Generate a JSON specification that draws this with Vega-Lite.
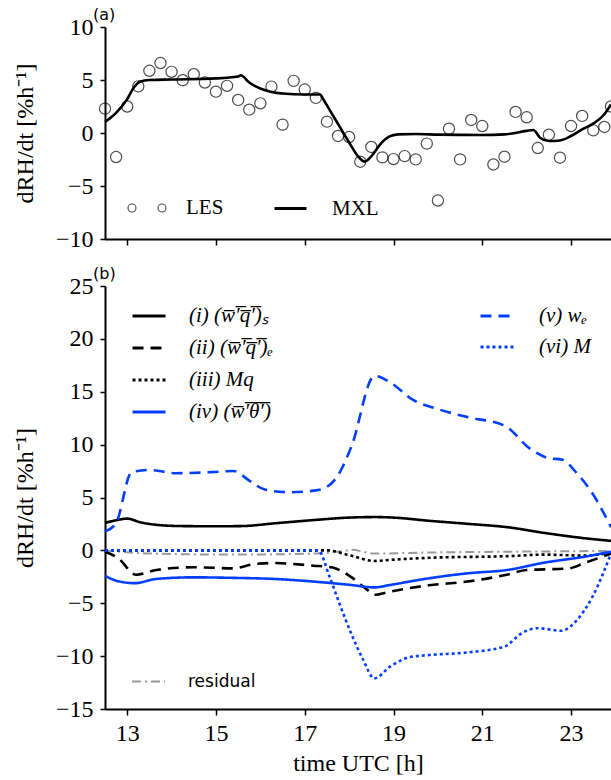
{
  "$schema": "https://vega.github.io/schema/vega-lite/v6.json",
  "background": "white",
  "padding": {"left": 13, "top": 7, "right": 0, "bottom": 0},
  "spacing": 15,
  "config": {
    "view": {"stroke": null},
    "font": "Liberation Serif",
    "axis": {
      "grid": false,
      "domainColor": "black",
      "domainWidth": 2,
      "tickColor": "black",
      "tickWidth": 1.5,
      "tickSize": 6,
      "labelFont": "Liberation Serif",
      "labelFontSize": 24,
      "labelColor": "black",
      "titleFont": "Liberation Serif",
      "titleFontSize": 24,
      "titleFontWeight": "normal",
      "titleColor": "black"
    },
    "legend": {
      "padding": 0,
      "labelColor": "black",
      "labelFont": "Liberation Serif",
      "title": null
    },
    "title": {"font": "DejaVu Sans", "fontSize": 16, "fontWeight": "normal", "color": "black", "anchor": "start", "frame": "group", "dx": -12, "offset": -8}
  },
  "datasets": {
    "les": [
      {"t": 12.5, "v": 2.3, "src": "LES"}, {"t": 12.75, "v": -2.27, "src": "LES"},
      {"t": 13.0, "v": 2.5, "src": "LES"}, {"t": 13.25, "v": 4.4, "src": "LES"},
      {"t": 13.5, "v": 5.87, "src": "LES"}, {"t": 13.75, "v": 6.6, "src": "LES"},
      {"t": 14.0, "v": 5.77, "src": "LES"}, {"t": 14.25, "v": 4.98, "src": "LES"},
      {"t": 14.5, "v": 5.55, "src": "LES"}, {"t": 14.75, "v": 4.76, "src": "LES"},
      {"t": 15.0, "v": 3.9, "src": "LES"}, {"t": 15.25, "v": 4.45, "src": "LES"},
      {"t": 15.5, "v": 3.12, "src": "LES"}, {"t": 15.75, "v": 2.2, "src": "LES"},
      {"t": 16.0, "v": 2.8, "src": "LES"}, {"t": 16.25, "v": 4.38, "src": "LES"},
      {"t": 16.5, "v": 0.79, "src": "LES"}, {"t": 16.75, "v": 4.92, "src": "LES"},
      {"t": 17.0, "v": 4.1, "src": "LES"}, {"t": 17.25, "v": 3.31, "src": "LES"},
      {"t": 17.5, "v": 1.07, "src": "LES"}, {"t": 17.75, "v": -0.28, "src": "LES"},
      {"t": 18.0, "v": -0.38, "src": "LES"}, {"t": 18.25, "v": -2.71, "src": "LES"},
      {"t": 18.5, "v": -1.32, "src": "LES"}, {"t": 18.75, "v": -2.3, "src": "LES"},
      {"t": 19.0, "v": -2.46, "src": "LES"}, {"t": 19.25, "v": -2.18, "src": "LES"},
      {"t": 19.5, "v": -2.49, "src": "LES"}, {"t": 19.75, "v": -1.0, "src": "LES"},
      {"t": 20.0, "v": -6.37, "src": "LES"}, {"t": 20.25, "v": 0.41, "src": "LES"},
      {"t": 20.5, "v": -2.49, "src": "LES"}, {"t": 20.75, "v": 1.23, "src": "LES"},
      {"t": 21.0, "v": 0.66, "src": "LES"}, {"t": 21.25, "v": -2.97, "src": "LES"},
      {"t": 21.5, "v": -2.24, "src": "LES"}, {"t": 21.75, "v": 1.99, "src": "LES"},
      {"t": 22.0, "v": 1.48, "src": "LES"}, {"t": 22.25, "v": -1.42, "src": "LES"},
      {"t": 22.5, "v": -0.16, "src": "LES"}, {"t": 22.75, "v": -2.33, "src": "LES"},
      {"t": 23.0, "v": 0.66, "src": "LES"}, {"t": 23.25, "v": 1.61, "src": "LES"},
      {"t": 23.5, "v": 0.25, "src": "LES"}, {"t": 23.75, "v": 0.57, "src": "LES"},
      {"t": 23.9, "v": 2.5, "src": "LES"}
    ],
    "mxl": [
      {"t": 12.5, "v": 1.04, "src": "MXL"}, {"t": 12.75, "v": 1.9, "src": "MXL"},
      {"t": 13.0, "v": 3.2, "src": "MXL"}, {"t": 13.15, "v": 4.3, "src": "MXL"},
      {"t": 13.3, "v": 4.85, "src": "MXL"}, {"t": 13.5, "v": 5.0, "src": "MXL"},
      {"t": 14.0, "v": 5.05, "src": "MXL"}, {"t": 15.0, "v": 5.15, "src": "MXL"},
      {"t": 15.5, "v": 5.33, "src": "MXL"}, {"t": 15.56, "v": 5.45, "src": "MXL"},
      {"t": 15.75, "v": 4.76, "src": "MXL"}, {"t": 16.0, "v": 4.2, "src": "MXL"},
      {"t": 16.5, "v": 3.72, "src": "MXL"}, {"t": 17.0, "v": 3.63, "src": "MXL"},
      {"t": 17.35, "v": 3.63, "src": "MXL"}, {"t": 17.4, "v": 3.3, "src": "MXL"},
      {"t": 17.6, "v": 1.9, "src": "MXL"}, {"t": 17.8, "v": 0.5, "src": "MXL"},
      {"t": 18.0, "v": -0.9, "src": "MXL"}, {"t": 18.2, "v": -2.2, "src": "MXL"},
      {"t": 18.35, "v": -2.7, "src": "MXL"}, {"t": 18.5, "v": -2.2, "src": "MXL"},
      {"t": 18.7, "v": -1.07, "src": "MXL"}, {"t": 18.9, "v": -0.35, "src": "MXL"},
      {"t": 19.1, "v": -0.13, "src": "MXL"}, {"t": 19.5, "v": -0.1, "src": "MXL"},
      {"t": 20.0, "v": -0.15, "src": "MXL"}, {"t": 21.0, "v": -0.19, "src": "MXL"},
      {"t": 21.5, "v": -0.13, "src": "MXL"}, {"t": 22.0, "v": 0.2, "src": "MXL"},
      {"t": 22.15, "v": 0.28, "src": "MXL"}, {"t": 22.3, "v": -0.44, "src": "MXL"},
      {"t": 22.5, "v": -0.76, "src": "MXL"}, {"t": 22.75, "v": -0.7, "src": "MXL"},
      {"t": 23.0, "v": -0.28, "src": "MXL"}, {"t": 23.25, "v": 0.35, "src": "MXL"},
      {"t": 23.5, "v": 0.88, "src": "MXL"}, {"t": 23.75, "v": 1.77, "src": "MXL"},
      {"t": 23.9, "v": 2.7, "src": "MXL"}
    ],
    "terms": [
      {"term": "(i) (w̅′̅q̅′̅)ₛ", "t": 12.5, "v": 2.6}, {"term": "(i) (w̅′̅q̅′̅)ₛ", "t": 12.75, "v": 2.85},
      {"term": "(i) (w̅′̅q̅′̅)ₛ", "t": 13.0, "v": 3.0}, {"term": "(i) (w̅′̅q̅′̅)ₛ", "t": 13.3, "v": 2.65},
      {"term": "(i) (w̅′̅q̅′̅)ₛ", "t": 13.7, "v": 2.4}, {"term": "(i) (w̅′̅q̅′̅)ₛ", "t": 14.2, "v": 2.3},
      {"term": "(i) (w̅′̅q̅′̅)ₛ", "t": 15.0, "v": 2.28}, {"term": "(i) (w̅′̅q̅′̅)ₛ", "t": 15.6, "v": 2.3},
      {"term": "(i) (w̅′̅q̅′̅)ₛ", "t": 16.3, "v": 2.55}, {"term": "(i) (w̅′̅q̅′̅)ₛ", "t": 17.3, "v": 2.9},
      {"term": "(i) (w̅′̅q̅′̅)ₛ", "t": 18.0, "v": 3.1}, {"term": "(i) (w̅′̅q̅′̅)ₛ", "t": 18.6, "v": 3.15},
      {"term": "(i) (w̅′̅q̅′̅)ₛ", "t": 19.0, "v": 3.1}, {"term": "(i) (w̅′̅q̅′̅)ₛ", "t": 19.8, "v": 2.8},
      {"term": "(i) (w̅′̅q̅′̅)ₛ", "t": 20.7, "v": 2.5}, {"term": "(i) (w̅′̅q̅′̅)ₛ", "t": 21.55, "v": 2.2},
      {"term": "(i) (w̅′̅q̅′̅)ₛ", "t": 22.4, "v": 1.65}, {"term": "(i) (w̅′̅q̅′̅)ₛ", "t": 23.3, "v": 1.15},
      {"term": "(i) (w̅′̅q̅′̅)ₛ", "t": 23.9, "v": 0.9},

      {"term": "(ii) (w̅′̅q̅′̅)ₑ", "t": 12.5, "v": -0.1}, {"term": "(ii) (w̅′̅q̅′̅)ₑ", "t": 12.8, "v": -0.75},
      {"term": "(ii) (w̅′̅q̅′̅)ₑ", "t": 13.2, "v": -2.3}, {"term": "(ii) (w̅′̅q̅′̅)ₑ", "t": 13.66, "v": -1.85},
      {"term": "(ii) (w̅′̅q̅′̅)ₑ", "t": 14.5, "v": -1.6}, {"term": "(ii) (w̅′̅q̅′̅)ₑ", "t": 15.4, "v": -1.7},
      {"term": "(ii) (w̅′̅q̅′̅)ₑ", "t": 15.85, "v": -1.3}, {"term": "(ii) (w̅′̅q̅′̅)ₑ", "t": 16.3, "v": -1.2},
      {"term": "(ii) (w̅′̅q̅′̅)ₑ", "t": 17.2, "v": -1.45}, {"term": "(ii) (w̅′̅q̅′̅)ₑ", "t": 17.6, "v": -1.6},
      {"term": "(ii) (w̅′̅q̅′̅)ₑ", "t": 18.04, "v": -2.5}, {"term": "(ii) (w̅′̅q̅′̅)ₑ", "t": 18.4, "v": -3.7},
      {"term": "(ii) (w̅′̅q̅′̅)ₑ", "t": 18.57, "v": -4.2}, {"term": "(ii) (w̅′̅q̅′̅)ₑ", "t": 18.92, "v": -3.9},
      {"term": "(ii) (w̅′̅q̅′̅)ₑ", "t": 19.8, "v": -3.3}, {"term": "(ii) (w̅′̅q̅′̅)ₑ", "t": 20.67, "v": -2.95},
      {"term": "(ii) (w̅′̅q̅′̅)ₑ", "t": 21.55, "v": -2.3}, {"term": "(ii) (w̅′̅q̅′̅)ₑ", "t": 22.0, "v": -1.85},
      {"term": "(ii) (w̅′̅q̅′̅)ₑ", "t": 22.4, "v": -1.8}, {"term": "(ii) (w̅′̅q̅′̅)ₑ", "t": 22.95, "v": -1.7},
      {"term": "(ii) (w̅′̅q̅′̅)ₑ", "t": 23.3, "v": -1.2}, {"term": "(ii) (w̅′̅q̅′̅)ₑ", "t": 23.9, "v": -0.3},

      {"term": "(iii) Mq", "t": 12.5, "v": 0.0}, {"term": "(iii) Mq", "t": 17.5, "v": 0.0},
      {"term": "(iii) Mq", "t": 18.0, "v": -0.45}, {"term": "(iii) Mq", "t": 18.57, "v": -1.0},
      {"term": "(iii) Mq", "t": 18.92, "v": -0.9}, {"term": "(iii) Mq", "t": 19.8, "v": -0.7},
      {"term": "(iii) Mq", "t": 21.55, "v": -0.55}, {"term": "(iii) Mq", "t": 22.4, "v": -0.4},
      {"term": "(iii) Mq", "t": 23.3, "v": -0.5}, {"term": "(iii) Mq", "t": 23.9, "v": -0.2},

      {"term": "(iv) (w̅′̅θ̅′̅)", "t": 12.5, "v": -2.4}, {"term": "(iv) (w̅′̅θ̅′̅)", "t": 12.78, "v": -2.9},
      {"term": "(iv) (w̅′̅θ̅′̅)", "t": 13.18, "v": -3.1}, {"term": "(iv) (w̅′̅θ̅′̅)", "t": 13.66, "v": -2.7},
      {"term": "(iv) (w̅′̅θ̅′̅)", "t": 14.5, "v": -2.55}, {"term": "(iv) (w̅′̅θ̅′̅)", "t": 15.4, "v": -2.6},
      {"term": "(iv) (w̅′̅θ̅′̅)", "t": 16.3, "v": -2.7}, {"term": "(iv) (w̅′̅θ̅′̅)", "t": 17.2, "v": -2.95},
      {"term": "(iv) (w̅′̅θ̅′̅)", "t": 18.04, "v": -3.27}, {"term": "(iv) (w̅′̅θ̅′̅)", "t": 18.57, "v": -3.5},
      {"term": "(iv) (w̅′̅θ̅′̅)", "t": 18.92, "v": -3.27}, {"term": "(iv) (w̅′̅θ̅′̅)", "t": 19.8, "v": -2.64},
      {"term": "(iv) (w̅′̅θ̅′̅)", "t": 20.67, "v": -2.17}, {"term": "(iv) (w̅′̅θ̅′̅)", "t": 21.55, "v": -1.86},
      {"term": "(iv) (w̅′̅θ̅′̅)", "t": 22.4, "v": -1.16}, {"term": "(iv) (w̅′̅θ̅′̅)", "t": 23.3, "v": -0.6},
      {"term": "(iv) (w̅′̅θ̅′̅)", "t": 23.9, "v": -0.13}
    ],
    "entrain": [
      {"term": "(v) wₑ", "t": 12.5, "v": 1.8}, {"term": "(v) wₑ", "t": 12.75, "v": 2.6},
      {"term": "(v) wₑ", "t": 13.1, "v": 7.4}, {"term": "(v) wₑ", "t": 13.5, "v": 7.6},
      {"term": "(v) wₑ", "t": 14.1, "v": 7.3}, {"term": "(v) wₑ", "t": 14.9, "v": 7.4},
      {"term": "(v) wₑ", "t": 15.4, "v": 7.5}, {"term": "(v) wₑ", "t": 15.75, "v": 6.6},
      {"term": "(v) wₑ", "t": 16.1, "v": 5.75}, {"term": "(v) wₑ", "t": 16.65, "v": 5.5},
      {"term": "(v) wₑ", "t": 17.3, "v": 5.7}, {"term": "(v) wₑ", "t": 17.7, "v": 6.8},
      {"term": "(v) wₑ", "t": 18.05, "v": 9.8}, {"term": "(v) wₑ", "t": 18.57, "v": 16.5},
      {"term": "(v) wₑ", "t": 18.92, "v": 15.9}, {"term": "(v) wₑ", "t": 19.45, "v": 14.2},
      {"term": "(v) wₑ", "t": 19.97, "v": 13.4}, {"term": "(v) wₑ", "t": 20.67, "v": 12.6},
      {"term": "(v) wₑ", "t": 21.5, "v": 11.8}, {"term": "(v) wₑ", "t": 22.08, "v": 9.6},
      {"term": "(v) wₑ", "t": 22.52, "v": 8.7}, {"term": "(v) wₑ", "t": 22.78, "v": 8.6},
      {"term": "(v) wₑ", "t": 23.13, "v": 7.3}, {"term": "(v) wₑ", "t": 23.48, "v": 5.4},
      {"term": "(v) wₑ", "t": 23.9, "v": 2.2},

      {"term": "(vi) M", "t": 12.5, "v": 0.0}, {"term": "(vi) M", "t": 17.3, "v": 0.0},
      {"term": "(vi) M", "t": 17.56, "v": -2.5}, {"term": "(vi) M", "t": 17.78, "v": -5.0},
      {"term": "(vi) M", "t": 18.04, "v": -7.8}, {"term": "(vi) M", "t": 18.3, "v": -10.2},
      {"term": "(vi) M", "t": 18.57, "v": -12.1}, {"term": "(vi) M", "t": 18.92, "v": -11.0},
      {"term": "(vi) M", "t": 19.36, "v": -10.1}, {"term": "(vi) M", "t": 19.8, "v": -9.9},
      {"term": "(vi) M", "t": 20.67, "v": -9.65}, {"term": "(vi) M", "t": 21.5, "v": -9.1},
      {"term": "(vi) M", "t": 21.9, "v": -7.8}, {"term": "(vi) M", "t": 22.25, "v": -7.36},
      {"term": "(vi) M", "t": 22.78, "v": -7.6}, {"term": "(vi) M", "t": 23.13, "v": -6.6},
      {"term": "(vi) M", "t": 23.48, "v": -4.4}, {"term": "(vi) M", "t": 23.9, "v": -0.3}
    ],
    "residual": [
      {"term": "residual", "t": 12.5, "v": 0.0}, {"term": "residual", "t": 13.5, "v": -0.3},
      {"term": "residual", "t": 15.4, "v": -0.4}, {"term": "residual", "t": 17.2, "v": -0.3},
      {"term": "residual", "t": 17.9, "v": -0.05}, {"term": "residual", "t": 18.05, "v": 0.05},
      {"term": "residual", "t": 18.57, "v": -0.3}, {"term": "residual", "t": 19.8, "v": -0.2},
      {"term": "residual", "t": 21.55, "v": -0.13}, {"term": "residual", "t": 23.9, "v": -0.05}
    ]
  },
  "vconcat": [
    {
      "title": "(a)",
      "width": 506,
      "height": 212,
      "resolve": {"scale": {"color": "independent"}},
      "encoding": {
        "x": {
          "field": "t", "type": "quantitative",
          "scale": {"domain": [12.5, 23.9], "nice": false, "zero": false},
          "axis": {"values": [13, 15, 17, 19, 21, 23], "labels": false, "title": null}
        },
        "y": {
          "field": "v", "type": "quantitative",
          "scale": {"domain": [-10, 10], "nice": false},
          "axis": {"values": [-10, -5, 0, 5, 10], "title": "dRH/dt [%h⁻¹]", "tickSize": 5, "labelPadding": 7, "minExtent": 48, "maxExtent": 48, "titlePadding": 20}
        }
      },
      "layer": [
        {
          "mark": {"type": "rule", "color": "#808080", "strokeWidth": 1.3, "strokeDash": [4, 3]},
          "encoding": {"y": {"datum": 0}, "x": {"value": 0}, "x2": {"value": 506}}
        },
        {
          "data": {"name": "les"},
          "mark": {"type": "point", "shape": "circle", "filled": false, "size": 125, "strokeWidth": 1.2},
          "encoding": {
            "color": {
              "field": "src", "type": "nominal",
              "scale": {"domain": ["LES"], "range": ["black"]},
              "legend": {
                "orient": "none", "legendX": 22, "legendY": 161,
                "symbolType": "M-1,0 A0.21,0.21 0 1,0 -0.58,0 A0.21,0.21 0 1,0 -1,0 Z M0.58,0 A0.21,0.21 0 1,0 1,0 A0.21,0.21 0 1,0 0.58,0 Z",
                "symbolSize": 1444, "symbolStrokeWidth": 1.1, "symbolStrokeColor": "black",
                "labelOffset": 19, "labelFontSize": 21
              }
            }
          }
        },
        {
          "data": {"name": "mxl"},
          "mark": {"type": "line", "strokeWidth": 2.6, "interpolate": "monotone"},
          "encoding": {
            "color": {
              "field": "src", "type": "nominal",
              "scale": {"domain": ["MXL"], "range": ["black"]},
              "legend": {
                "orient": "none", "legendX": 168, "legendY": 164,
                "symbolSize": 1024, "symbolStrokeWidth": 3,
                "labelOffset": 24, "labelFontSize": 21
              }
            }
          }
        }
      ]
    },
    {
      "title": "(b)",
      "width": 506,
      "height": 423,
      "resolve": {"scale": {"color": "independent", "strokeDash": "independent"}},
      "encoding": {
        "x": {
          "field": "t", "type": "quantitative",
          "scale": {"domain": [12.5, 23.9], "nice": false, "zero": false},
          "axis": {"values": [13, 15, 17, 19, 21, 23], "title": "time UTC [h]", "labelPadding": 6, "titlePadding": 6}
        },
        "y": {
          "field": "v", "type": "quantitative",
          "scale": {"domain": [-15, 25], "nice": false},
          "axis": {"values": [-15, -10, -5, 0, 5, 10, 15, 20, 25], "title": "dRH/dt [%h⁻¹]", "tickSize": 5, "labelPadding": 7, "minExtent": 48, "maxExtent": 48, "titlePadding": 20}
        }
      },
      "layer": [
        {
          "data": {"name": "residual"},
          "mark": {"type": "line", "strokeWidth": 2, "interpolate": "monotone"},
          "encoding": {
            "color": {
              "field": "term", "type": "nominal",
              "scale": {"domain": ["residual"], "range": ["#999999"]},
              "legend": {
                "orient": "none", "legendX": 26, "legendY": 378,
                "symbolSize": 1089, "symbolStrokeWidth": 2,
                "labelOffset": 22, "labelFont": "DejaVu Sans", "labelFontSize": 17
              }
            },
            "strokeDash": {
              "field": "term", "type": "nominal",
              "scale": {"domain": ["residual"], "range": [[9, 4, 2, 4]]},
              "legend": {
                "orient": "none", "legendX": 26, "legendY": 378,
                "symbolSize": 1089, "symbolStrokeWidth": 2,
                "labelOffset": 22, "labelFont": "DejaVu Sans", "labelFontSize": 17
              }
            }
          }
        },
        {
          "data": {"name": "terms"},
          "mark": {"type": "line", "strokeWidth": 2.6, "interpolate": "monotone"},
          "encoding": {
            "color": {
              "field": "term", "type": "nominal",
              "scale": {
                "domain": ["(i) (w̅′̅q̅′̅)ₛ", "(ii) (w̅′̅q̅′̅)ₑ", "(iii) Mq", "(iv) (w̅′̅θ̅′̅)"],
                "range": ["black", "black", "black", "#023eff"]
              },
              "legend": {
                "orient": "none", "legendX": 26, "legendY": 12, "rowPadding": 4,
                "symbolSize": 1089, "symbolStrokeWidth": 2.8,
                "labelOffset": 22, "labelFontSize": 21, "labelFontStyle": "italic"
              }
            },
            "strokeDash": {
              "field": "term", "type": "nominal",
              "scale": {
                "domain": ["(i) (w̅′̅q̅′̅)ₛ", "(ii) (w̅′̅q̅′̅)ₑ", "(iii) Mq", "(iv) (w̅′̅θ̅′̅)"],
                "range": [[1, 0], [11, 7], [3, 3], [1, 0]]
              },
              "legend": {
                "orient": "none", "legendX": 26, "legendY": 12, "rowPadding": 4,
                "symbolSize": 1089, "symbolStrokeWidth": 2.8,
                "labelOffset": 22, "labelFontSize": 21, "labelFontStyle": "italic"
              }
            }
          }
        },
        {
          "data": {"name": "entrain"},
          "mark": {"type": "line", "strokeWidth": 2.6, "interpolate": "monotone"},
          "encoding": {
            "color": {
              "field": "term", "type": "nominal",
              "scale": {"domain": ["(v) wₑ", "(vi) M"], "range": ["#023eff", "#023eff"]},
              "legend": {
                "orient": "none", "legendX": 374, "legendY": 12, "rowPadding": 3,
                "symbolSize": 1089, "symbolStrokeWidth": 2.8,
                "labelOffset": 24, "labelFontSize": 21, "labelFontStyle": "italic"
              }
            },
            "strokeDash": {
              "field": "term", "type": "nominal",
              "scale": {"domain": ["(v) wₑ", "(vi) M"], "range": [[11, 7], [3, 3]]},
              "legend": {
                "orient": "none", "legendX": 374, "legendY": 12, "rowPadding": 3,
                "symbolSize": 1089, "symbolStrokeWidth": 2.8,
                "labelOffset": 24, "labelFontSize": 21, "labelFontStyle": "italic"
              }
            }
          }
        }
      ]
    }
  ]
}
